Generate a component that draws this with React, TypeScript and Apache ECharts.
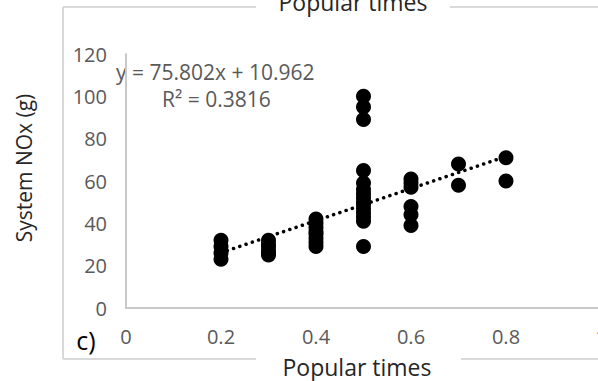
import React, { useEffect, useRef } from "react";
import * as echarts from "echarts";

const xTicks = [0, 0.2, 0.4, 0.6, 0.8, 1];
const yTicks = [0, 20, 40, 60, 80, 100, 120];

const xValues02 = [0.2, 0.2, 0.2, 0.2];
const yValues02 = [32, 29, 26, 23];
const xValues03 = [0.3, 0.3, 0.3, 0.3, 0.3, 0.3];
const yValues03 = [32, 30, 29, 27, 26, 25];
const xValues04 = [0.4, 0.4, 0.4, 0.4, 0.4, 0.4, 0.4, 0.4];
const yValues04 = [42, 40, 38, 36, 35, 33, 31, 29];
const xValues05 = [0.5, 0.5, 0.5, 0.5, 0.5, 0.5, 0.5, 0.5, 0.5, 0.5, 0.5, 0.5, 0.5, 0.5, 0.5];
const yValues05 = [100, 95, 89, 65, 59, 56, 54, 52, 50, 49, 47, 45, 43, 41, 29];
const xValues06 = [0.6, 0.6, 0.6, 0.6, 0.6, 0.6];
const yValues06 = [61, 59, 57, 48, 44, 39];
const xValues07 = [0.7, 0.7];
const yValues07 = [68, 58];
const xValues08 = [0.8, 0.8];
const yValues08 = [71, 60];

const trendSlope = 75.802;
const trendIntercept = 10.962;
const trendRange = [0.2, 0.8];

const chartTitle = "Popular times";
const xTitle = "Popular times";
const yTitle = "System NOx (g)";
const equationText = "y = 75.802x + 10.962";
const r2Text = "R² = 0.3816";
const panelLabel = "c)";

export default function App() {
  const ref = useRef<HTMLDivElement>(null);
  useEffect(() => {
    if (!ref.current) return;
    const chart = echarts.init(ref.current, null, { renderer: "svg" });
    const xs = [...xValues02, ...xValues03, ...xValues04, ...xValues05, ...xValues06, ...xValues07, ...xValues08];
    const ys = [...yValues02, ...yValues03, ...yValues04, ...yValues05, ...yValues06, ...yValues07, ...yValues08];
    const points = xs.map((x, i) => [x, ys[i]]);
    const trend = trendRange.map((x) => [x, trendSlope * x + trendIntercept]);
    const font = "'Open Sans', 'Noto Sans', sans-serif";
    const frame = "#d9d9d9";
    chart.setOption({
      animation: false,
      backgroundColor: "#ffffff",
      grid: { left: 126, top: 54, width: 475, height: 254, containLabel: false, outerBoundsMode: "none" },
      xAxis: {
        type: "value",
        min: xTicks[0],
        max: xTicks[xTicks.length - 1],
        interval: 0.2,
        axisLine: { show: true, onZero: false, lineStyle: { color: "#c9c9c9", width: 2 } },
        axisTick: { show: false },
        splitLine: { show: false },
        axisLabel: { color: "#595959", fontSize: 20, fontFamily: font, margin: 18 },
      },
      yAxis: {
        type: "value",
        min: yTicks[0],
        max: yTicks[yTicks.length - 1],
        interval: 20,
        axisLine: { show: true, lineStyle: { color: "#c9c9c9", width: 2 } },
        axisTick: { show: false },
        splitLine: { show: false },
        axisLabel: { color: "#595959", fontSize: 20, fontFamily: font, margin: 19 },
      },
      series: [
        {
          type: "scatter",
          data: points,
          symbol: "circle",
          symbolSize: 15,
          itemStyle: { color: "#000000", opacity: 1 },
          z: 2,
        },
        {
          type: "line",
          data: trend,
          symbol: "none",
          lineStyle: { color: "#000000", width: 3.5, type: [0.1, 6.5], cap: "round" },
          z: 3,
        },
      ],
      graphic: [
        { type: "line", shape: { x1: 63, y1: 7, x2: 63, y2: 359 }, style: { stroke: frame, lineWidth: 2 } },
        { type: "line", shape: { x1: 63, y1: 7, x2: 256, y2: 7 }, style: { stroke: frame, lineWidth: 2 } },
        { type: "line", shape: { x1: 450, y1: 7, x2: 598, y2: 7 }, style: { stroke: frame, lineWidth: 2 } },
        { type: "line", shape: { x1: 63, y1: 359, x2: 256, y2: 359 }, style: { stroke: frame, lineWidth: 2 } },
        { type: "line", shape: { x1: 461, y1: 359, x2: 598, y2: 359 }, style: { stroke: frame, lineWidth: 2 } },
        {
          type: "text", x: 353, y: 2,
          style: { text: chartTitle, font: `23px ${font}`, fill: "#262626", align: "center", verticalAlign: "middle" },
        },
        {
          type: "text", x: 357, y: 367,
          style: { text: xTitle, font: `23px ${font}`, fill: "#262626", align: "center", verticalAlign: "middle" },
        },
        {
          type: "text", x: 24, y: 168, rotation: Math.PI / 2,
          style: { text: yTitle, font: `21px ${font}`, fill: "#262626", align: "center", verticalAlign: "middle" },
        },
        {
          type: "text", x: 86, y: 340,
          style: { text: panelLabel, font: `25px ${font}`, fill: "#000000", align: "center", verticalAlign: "middle" },
        },
        {
          type: "text", x: 116, y: 72,
          style: { text: equationText, font: `21px ${font}`, fill: "#595959", align: "left", verticalAlign: "middle" },
        },
        {
          type: "text", x: 162, y: 99,
          style: { text: r2Text, font: `21px ${font}`, fill: "#595959", align: "left", verticalAlign: "middle" },
        },
      ],
    });
    return () => chart.dispose();
  }, []);
  return <div ref={ref} style={{ position: "absolute", left: 0, top: 0, width: 598, height: 381 }} />;
}
